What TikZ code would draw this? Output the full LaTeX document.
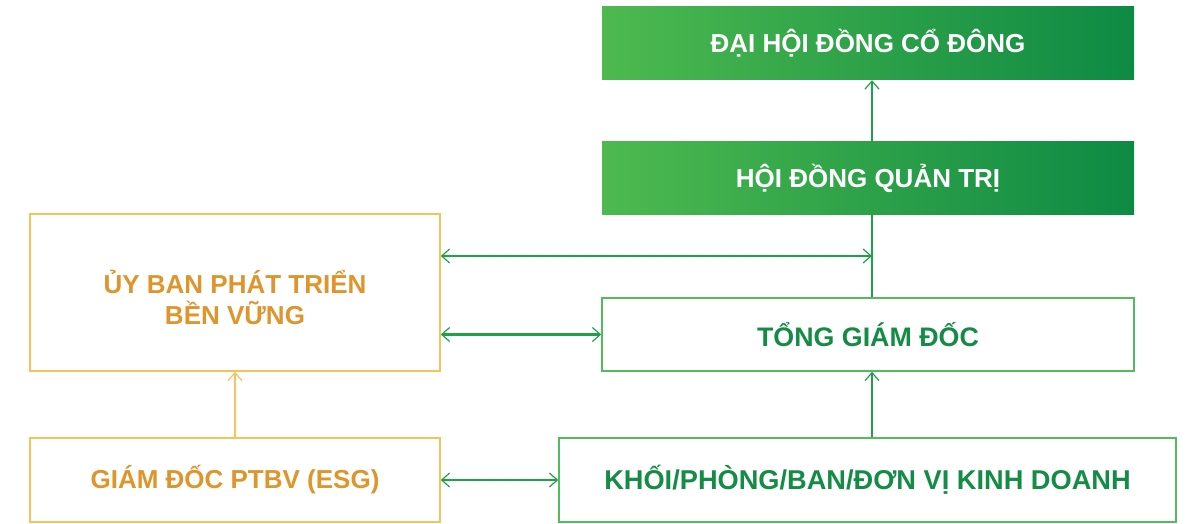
\documentclass[tikz,border=0pt]{standalone}
\usepackage{fontspec}
\setmainfont{Liberation Sans}
\usetikzlibrary{arrows.meta}
\definecolor{gOne}{HTML}{4DB94F}
\definecolor{gTwo}{HTML}{0E8A44}
\definecolor{gMid}{HTML}{20A049}
\definecolor{gText}{HTML}{158C45}
\definecolor{gBorder}{HTML}{52BC5C}
\definecolor{oBorder}{HTML}{F6C25A}
\definecolor{oText}{HTML}{DF952B}
\begin{document}
\begin{tikzpicture}[x=1pt,y=-1pt,
  >={Straight Barb[length=8pt,width=14pt,line width=1.2pt]},
  lbl/.style={font=\fontsize{26}{31}\selectfont\bfseries, align=center, inner sep=0pt},
  filledbox/.style={lbl, left color=gOne, right color=gTwo, text=white, draw=none},
  greenbox/.style={lbl, draw=gBorder, line width=1.5pt, fill=white, text=gText},
  orangebox/.style={lbl, draw=oBorder, line width=1.5pt, fill=white, text=oText},
  gline/.style={draw=gMid, line width=2.2pt},
  oline/.style={draw=oBorder, line width=2.2pt}
]
\useasboundingbox (0,0) rectangle (1194,524);
\node[filledbox, minimum width=532pt, minimum height=73pt] (DH) at (868,43.5) {ĐẠI HỘI ĐỒNG CỔ ĐÔNG};
\node[filledbox, minimum width=532pt, minimum height=72pt] (HD) at (868,178) {HỘI ĐỒNG QUẢN TRỊ};
\node[orangebox, minimum width=410pt, minimum height=157pt, text depth=0pt] (UB) at (235,292.5) {\raisebox{6pt}{\begin{tabular}{@{}c@{}}ỦY BAN PHÁT TRIỂN\\[-2pt]BỀN VỮNG\end{tabular}}};
\node[greenbox, minimum width=532pt, minimum height=73pt, font=\fontsize{26.8}{31}\selectfont\bfseries] (TG) at (868,334.5) {TỔNG GIÁM ĐỐC};
\node[orangebox, minimum width=410pt, minimum height=84pt] (GD) at (235,480) {GIÁM ĐỐC PTBV (ESG)};
\node[greenbox, minimum width=617pt, minimum height=84pt, font=\fontsize{27.2}{31}\selectfont\bfseries] (KH) at (867.5,480) {KHỐI/PHÒNG/BAN/ĐƠN VỊ KINH DOANH};
\coordinate (vx) at (872,0);
\coordinate (j) at (872,256);
\draw[gline,->] (vx |- HD.north) -- (vx |- DH.south);
\draw[gline] (vx |- TG.north) -- (vx |- HD.south);
\draw[gline,<->] (UB.east |- j) -- (j);
\draw[gline,<->] (UB.east |- TG.west) -- (TG.west);
\draw[gline,<->] (GD.east) -- (KH.west);
\draw[gline,->] (vx |- KH.north) -- (vx |- TG.south);
\draw[oline,->] (GD.north) -- (UB.south);
\end{tikzpicture}
\end{document}
